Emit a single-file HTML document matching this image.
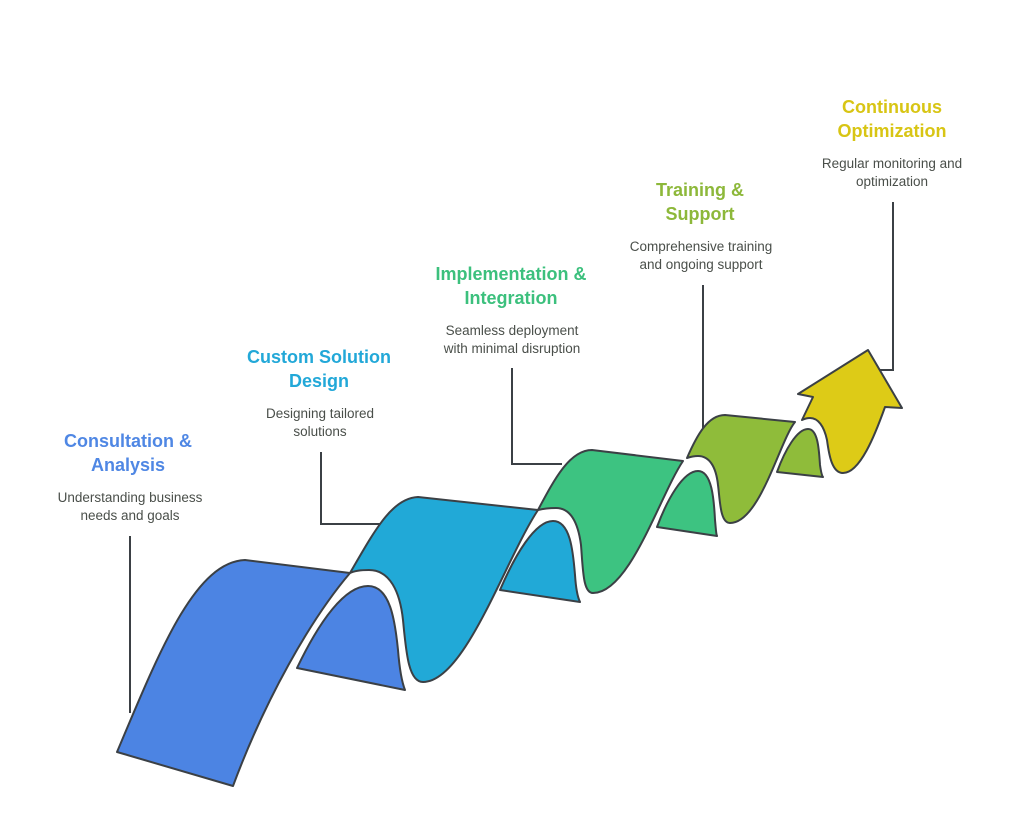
<!DOCTYPE html>
<html><head><meta charset="utf-8"><style>
html,body{margin:0;padding:0;background:#fff;}
svg{display:block;}
.t{font-family:"Liberation Sans",sans-serif;font-weight:bold;font-size:18px;text-anchor:middle;}
.d{font-family:"Liberation Sans",sans-serif;font-size:13.5px;fill:#4a4f4a;text-anchor:middle;}
.o{stroke:#3b4045;stroke-width:2;stroke-linejoin:round;}
.c{fill:none;stroke:#3b4045;stroke-width:2;}
</style></head><body>
<svg width="1024" height="825" viewBox="0 0 1024 825" xmlns="http://www.w3.org/2000/svg">
<path class="c" d="M130,536 V713"/>
<path class="c" d="M321,452 V524 H382"/>
<path class="c" d="M512,368 V464 H562"/>
<path class="c" d="M703,285 V432"/>
<path class="c" d="M893,202 V370 H875"/>

<path class="o" fill="#4C84E3" d="M297,668 C320,620 345,586 368,586 C390,586 395,620 398,650 C400,675 403,685 405,690 Z"/>
<path class="o" fill="#21A9D7" d="M500,590 C515,555 535,521 553,521 C570,521 573,550 575,575 C576,590 578,598 580,602 Z"/>
<path class="o" fill="#3DC381" d="M657,527 C667,500 683,471 698,471 C712,471 714,500 715,520 C716,530 716,534 717,536 Z"/>
<path class="o" fill="#8FBC3A" d="M777,472 C785,450 797,429 808,429 C818,429 819,450 820,465 C821,472 822,476 823,477 Z"/>

<path class="o" fill="#DDCB17" d="M802,420 L813,397 L798,394 L868,350 L902,408 L885,407 C875,435 860,473 843,473 C832,473 829,455 827,440 C824,426 818,418 810,418 C806,418 804,419 802,420 Z"/>
<path class="o" fill="#8FBC3A" d="M687,458 C697,435 708,415 725,415 L795,422 C780,440 760,523 730,523 C720,523 720,500 718,485 C716,466 709,456 698,456 C693,456 690,457 687,458 Z"/>
<path class="o" fill="#3DC381" d="M538,510 C555,478 570,450 592,450 L683,461 C660,495 630,593 593,593 C583,593 583,570 581,545 C578,522 570,508 556,508 C548,508 542,509 538,510 Z"/>
<path class="o" fill="#21A9D7" d="M350,573 C375,530 392,498 418,497 L538,510 C505,560 465,682 423,682 C408,682 406,650 403,620 C400,592 390,570 369,570 C360,570 354,571 350,573 Z"/>
<path class="o" fill="#4C84E3" d="M117,752 C160,650 195,562 245,560 L350,573 C310,620 265,700 233,786 Z"/>

<text class="t" fill="#4F87E4" x="128" y="447">Consultation &amp;</text>
<text class="t" fill="#4F87E4" x="128" y="471">Analysis</text>
<text class="d" x="130" y="502">Understanding business</text>
<text class="d" x="130" y="520">needs and goals</text>

<text class="t" fill="#22A8D8" x="319" y="363">Custom Solution</text>
<text class="t" fill="#22A8D8" x="319" y="387">Design</text>
<text class="d" x="320" y="418">Designing tailored</text>
<text class="d" x="320" y="436">solutions</text>

<text class="t" fill="#3CC07D" x="511" y="280">Implementation &amp;</text>
<text class="t" fill="#3CC07D" x="511" y="304">Integration</text>
<text class="d" x="512" y="335">Seamless deployment</text>
<text class="d" x="512" y="353">with minimal disruption</text>

<text class="t" fill="#8DB83A" x="700" y="196">Training &amp;</text>
<text class="t" fill="#8DB83A" x="700" y="220">Support</text>
<text class="d" x="701" y="251">Comprehensive training</text>
<text class="d" x="701" y="269">and ongoing support</text>

<text class="t" fill="#D8C514" x="892" y="113">Continuous</text>
<text class="t" fill="#D8C514" x="892" y="137">Optimization</text>
<text class="d" x="892" y="168">Regular monitoring and</text>
<text class="d" x="892" y="186">optimization</text>
</svg>
</body></html>
